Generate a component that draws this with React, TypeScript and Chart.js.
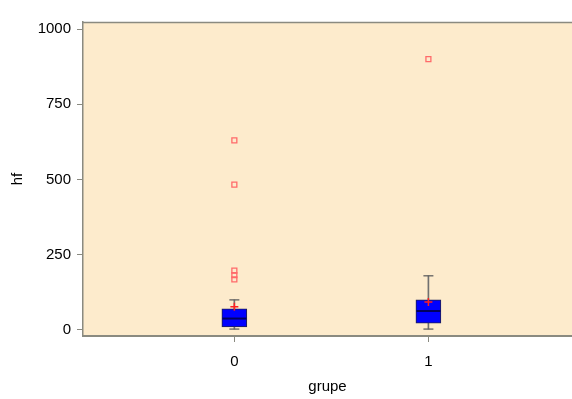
import React, { useEffect, useRef } from "react";
import { Chart, registerables } from "chart.js";

Chart.register(...registerables);

// Groups and their box-plot summaries for hf
const groups = [0, 1];
const groupLabels = ["0", "1"];
const q1 = [10, 23];
const medians = [38, 63];
const q3 = [70, 100];
const whiskerLow = [3, 3];
const whiskerHigh = [100, 180];
const means = [77, 93];
const outliers0 = [630, 483, 197, 182, 168];
const outliers1 = [900];
const yTicks = [0, 250, 500, 750, 1000];

const FONT = "'Liberation Sans', Arial, sans-serif";

const plotBackground = {
  id: "plotBackground",
  beforeDraw(chart: any) {
    const { ctx, chartArea } = chart;
    ctx.save();
    ctx.fillStyle = "#FDEBCC";
    ctx.fillRect(chartArea.left, chartArea.top, chartArea.right - chartArea.left, chartArea.bottom - chartArea.top);
    ctx.strokeStyle = "#8a8a80";
    ctx.lineWidth = 1.5;
    ctx.beginPath();
    ctx.moveTo(chartArea.left, chartArea.top + 0.5);
    ctx.lineTo(chartArea.right, chartArea.top + 0.5);
    ctx.stroke();
    ctx.restore();
  },
};

export default function App() {
  const ref = useRef<HTMLCanvasElement>(null);

  useEffect(() => {
    if (!ref.current) return;
    const pts = (vals: number[]) => groups.map((g, i) => ({ x: g, y: vals[i] }));
    const chart = new Chart(ref.current, {
      type: "bar",
      data: {
        datasets: [
          {
            type: "scatter",
            label: "outliers",
            data: [
              ...outliers0.map((v) => ({ x: groups[0], y: v })),
              ...outliers1.map((v) => ({ x: groups[1], y: v })),
            ],
            pointStyle: "rect",
            pointRadius: 3.5,
            backgroundColor: "rgba(0,0,0,0)",
            borderColor: "#FF6A6A",
            borderWidth: 1.3,
            order: 0,
          } as any,
          {
            type: "scatter",
            label: "mean",
            data: pts(means),
            pointStyle: "cross",
            pointRadius: 4,
            borderColor: "#FF2020",
            borderWidth: 1.5,
            order: 1,
          } as any,
          {
            type: "scatter",
            label: "median",
            data: pts(medians),
            pointStyle: "line",
            pointRadius: 12,
            borderColor: "#000060",
            borderWidth: 2,
            order: 2,
          } as any,
          {
            type: "bar",
            label: "box",
            data: groups.map((g, i) => ({ x: g, y: [q1[i], q3[i]] })),
            backgroundColor: "#0000FF",
            borderColor: "#202050",
            borderWidth: 1,
            borderSkipped: false,
            barThickness: 25,
            grouped: false,
            order: 3,
          } as any,
          {
            type: "scatter",
            label: "caps",
            data: [...pts(whiskerLow), ...pts(whiskerHigh)],
            pointStyle: "line",
            pointRadius: 5,
            borderColor: "#606060",
            borderWidth: 1.3,
            order: 4,
          } as any,
          {
            type: "bar",
            label: "whisker",
            data: groups.map((g, i) => ({ x: g, y: [whiskerLow[i], whiskerHigh[i]] })),
            backgroundColor: "#707070",
            borderWidth: 0,
            barThickness: 1,
            grouped: false,
            order: 5,
          } as any,
        ],
      },
      options: {
        animation: false,
        responsive: false,
        maintainAspectRatio: false,
        layout: { autoPadding: false, padding: { top: 22, right: 0, left: 0, bottom: 0 } },
        plugins: { legend: { display: false }, tooltip: { enabled: false } },
        scales: {
          x: {
            type: "linear",
            offset: false,
            min: -0.78,
            max: 1.74,
            afterBuildTicks: (s: any) => {
              s.ticks = groups.map((g) => ({ value: g }));
            },
            afterFit: (s: any) => {
              s.height = 63;
            },
            ticks: {
              callback: (v: any) => groupLabels[groups.indexOf(Number(v))] ?? "",
              color: "#000",
              font: { family: FONT, size: 15 },
              padding: 11,
              maxRotation: 0,
            },
            grid: { display: true, offset: false, drawOnChartArea: false, tickLength: 6, color: "#8a8a80" },
            border: { display: true, color: "#8a8a80", width: 2 },
            title: {
              display: true,
              text: "grupe",
              color: "#000",
              font: { family: FONT, size: 15 },
              padding: { top: 8, bottom: 3 },
            },
          },
          y: {
            type: "linear",
            min: -20,
            max: 1023.3,
            afterBuildTicks: (s: any) => {
              s.ticks = yTicks.map((v) => ({ value: v }));
            },
            afterFit: (s: any) => {
              s.width = 83;
            },
            ticks: {
              callback: (v: any) => String(v),
              color: "#000",
              font: { family: FONT, size: 15 },
              padding: 6,
            },
            grid: { display: true, drawOnChartArea: false, tickLength: 6, color: "#8a8a80" },
            border: { display: true, color: "#8a8a80", width: 1.5 },
            title: {
              display: true,
              text: "hf",
              color: "#000",
              font: { family: FONT, size: 15 },
              padding: { top: 9, bottom: 0 },
            },
          },
        },
      },
      plugins: [plotBackground],
    });
    return () => chart.destroy();
  }, []);

  return (
    <div style={{ position: "fixed", left: 0, top: 0, width: 572, height: 399, background: "#fff" }}>
      <canvas ref={ref} width={572} height={399} style={{ width: 572, height: 399 }} />
    </div>
  );
}
